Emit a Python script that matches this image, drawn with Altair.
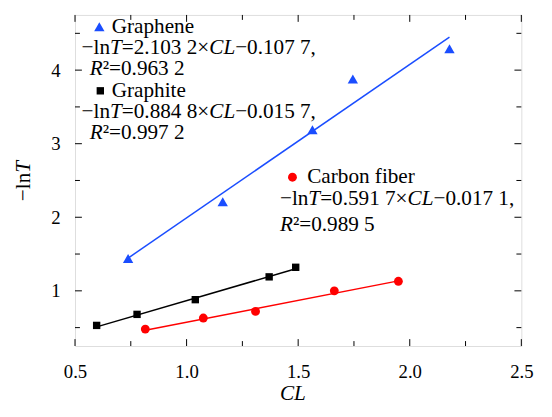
import altair as alt
import pandas as pd

# ---------------- data ----------------
graphene_cl = [0.738, 1.162, 1.564, 1.745, 2.178]
graphene_y = [1.44, 2.21, 3.19, 3.88, 4.29]
graphite_cl = [0.597, 0.778, 1.039, 1.370, 1.489]
graphite_y = [0.53, 0.68, 0.88, 1.19, 1.32]
carbon_cl = [0.815, 1.075, 1.309, 1.662, 1.949]
carbon_y = [0.48, 0.63, 0.72, 1.00, 1.13]

# fitted lines (end points)
graphene_fit_cl = [0.738, 2.178]
graphene_fit_y = [1.445, 4.45]
graphite_fit_cl = [0.597, 1.489]
graphite_fit_y = [0.51, 1.30]
carbon_fit_cl = [0.815, 1.949]
carbon_fit_y = [0.465, 1.135]

x_major = [0.5, 1.0, 1.5, 2.0, 2.5]
x_minor = [0.75, 1.25, 1.75, 2.25]
y_major = [1, 2, 3, 4]
y_minor = [0.5, 1.5, 2.5, 3.5, 4.5]

BLUE = "#1a4dff"
RED = "#ff0000"
BLACK = "#000000"
FONT = "Liberation Serif"
FS = 21.5
TICK_FS = 19

W, H = 453, 336
XDOM = [0.5, 2.5]
YDOM = [0.25, 4.75]

xs = alt.Scale(domain=XDOM, nice=False, zero=False)
ys = alt.Scale(domain=YDOM, nice=False, zero=False)

ONE = pd.DataFrame({"a": [0]})


def pts(cl, y, color, shape, size):
    df = pd.DataFrame({"cl": cl, "y": y})
    return alt.Chart(df).mark_point(shape=shape, filled=True, size=size, color=color, opacity=1).encode(
        x=alt.X("cl:Q", scale=xs), y=alt.Y("y:Q", scale=ys))


def line(cl, y, color):
    df = pd.DataFrame({"cl": cl, "y": y})
    return alt.Chart(df).mark_line(color=color, strokeWidth=1.5).encode(
        x=alt.X("cl:Q", scale=xs), y=alt.Y("y:Q", scale=ys))


# ---------------- ticks drawn inward on all four sides ----------------
def xticks(vals, length):
    df = pd.DataFrame({"v": vals})
    b = alt.Chart(df).mark_rule(color=BLACK, strokeWidth=1).encode(
        x=alt.X("v:Q", scale=xs), y=alt.value(H), y2=alt.value(H - length))
    t = alt.Chart(df).mark_rule(color=BLACK, strokeWidth=1).encode(
        x=alt.X("v:Q", scale=xs), y=alt.value(0), y2=alt.value(length))
    return [b, t]


def yticks(vals, length):
    df = pd.DataFrame({"v": vals})
    l = alt.Chart(df).mark_rule(color=BLACK, strokeWidth=1).encode(
        y=alt.Y("v:Q", scale=ys), x=alt.value(0), x2=alt.value(length))
    r = alt.Chart(df).mark_rule(color=BLACK, strokeWidth=1).encode(
        y=alt.Y("v:Q", scale=ys), x=alt.value(W), x2=alt.value(W - length))
    return [l, r]


# ---------------- rich text built from segments ----------------
W_REG = {".": 250, " ": 250, ",": 250, "=": 564, "\u2212": 564, "\u00d7": 564, "\u00b2": 300,
         "l": 278, "n": 500, "G": 722, "r": 333, "a": 444, "p": 500, "h": 500, "e": 444,
         "i": 278, "t": 278, "C": 667, "b": 500, "o": 500, "f": 333}
W_IT = {"T": 556, "C": 667, "L": 556, "R": 611}


def seg_w(s, it, fs):
    tab = W_IT if it else W_REG
    return sum(tab.get(c, W_REG.get(c, 500)) for c in s) * fs / 1000.0


def rich(segments, x0, y0, fs=FS, angle=0):
    out = []
    pos = 0.0
    for s, it in segments:
        mk = dict(align="left", baseline="alphabetic", font=FONT, fontSize=fs,
                  fontStyle="italic" if it else "normal", color=BLACK)
        if angle:
            mk["angle"] = angle
            x, y = x0, y0 - pos
        else:
            x, y = x0 + pos, y0
        out.append(alt.Chart(ONE).mark_text(**mk).encode(
            x=alt.value(x), y=alt.value(y), text=alt.value(s)))
        pos += seg_w(s, it, fs)
    return out


def marker(x, y, color, shape, size):
    return alt.Chart(ONE).mark_point(shape=shape, filled=True, size=size, color=color, opacity=1).encode(
        x=alt.value(x), y=alt.value(y))


M = "\u2212"
X = "\u00d7"

labels = []
# Graphene block
labels.append(marker(24.7, 12, BLUE, "triangle-up", 110))
labels += rich([("Graphene", False)], 37.3, 18.7)
labels += rich([(M + "ln", False), ("T", True), ("=2.103 2" + X, False), ("CL", True), (M + "0.107 7,", False)], 6.7, 39.7)
labels += rich([("R", True), ("\u00b2=0.963 2", False)], 15, 61.3)
# Graphite block
labels.append(marker(25.7, 77, BLACK, "square", 56))
labels += rich([("Graphite", False)], 37.3, 83)
labels += rich([(M + "ln", False), ("T", True), ("=0.884 8" + X, False), ("CL", True), (M + "0.015 7,", False)], 6.7, 104.7)
labels += rich([("R", True), ("\u00b2=0.997 2", False)], 15, 126.3)
# Carbon fiber block
labels.append(marker(220.7, 164.7, RED, "circle", 81))
labels += rich([("Carbon fiber", False)], 235.7, 170.7)
labels += rich([(M + "ln", False), ("T", True), ("=0.591 7" + X, False), ("CL", True), (M + "0.017 1,", False)], 208, 193)
labels += rich([("R", True), ("\u00b2=0.989 5", False)], 208, 219.7)

# axis titles
labels += rich([("CL", True)], 208, 391)
labels += rich([(M + "ln", False), ("T", True)], -46, 189, angle=270)

base = alt.Chart(ONE).mark_point(opacity=0).encode(
    x=alt.X("a:Q", scale=xs, axis=alt.Axis(values=x_major, format=".1f", title=None, ticks=False,
                                          domain=False, grid=False, labelFont=FONT, labelFontSize=TICK_FS,
                                          labelColor=BLACK, labelPadding=17, labelFlush=False)),
    y=alt.Y("a:Q", scale=ys, axis=alt.Axis(values=y_major, format="d", title=None, ticks=False,
                                          domain=False, grid=False, labelFont=FONT, labelFontSize=TICK_FS,
                                          labelColor=BLACK, labelPadding=15, labelFlush=False)),
)

layers = [base]
layers += xticks(x_major, 7) + xticks(x_minor, 5) + yticks(y_major, 7) + yticks(y_minor, 5)
layers += [
    line(graphene_fit_cl, graphene_fit_y, BLUE),
    line(graphite_fit_cl, graphite_fit_y, BLACK),
    line(carbon_fit_cl, carbon_fit_y, RED),
    pts(graphene_cl, graphene_y, BLUE, "triangle-up", 110),
    pts(graphite_cl, graphite_y, BLACK, "square", 56),
    pts(carbon_cl, carbon_y, RED, "circle", 81),
]
layers += labels

chart = alt.layer(*layers).properties(
    width=W, height=H,
    autosize=alt.AutoSizeParams(type="none"),
    padding={"left": 68, "top": 4, "right": 23, "bottom": 69},
).configure_view(stroke=BLACK, strokeWidth=1.5).configure(background="white")

chart.save("out.html", embed_options={"renderer": "svg", "actions": False})
